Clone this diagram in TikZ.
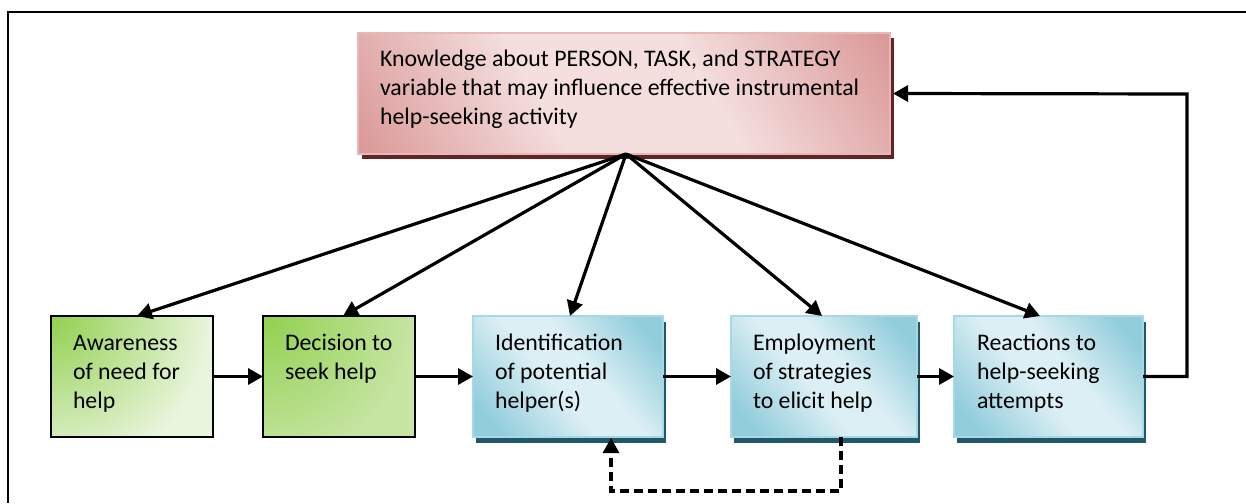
\documentclass[tikz,border=0pt]{standalone}
\usepackage{fontspec}
\setmainfont{Carlito}
\usetikzlibrary{arrows.meta,shadows,calc}
\definecolor{pinkD}{HTML}{D99594}
\definecolor{pinkL}{HTML}{F4DEDE}
\definecolor{pinkB}{HTML}{E6B9B8}
\definecolor{pinkS}{HTML}{632423}
\definecolor{blueD}{HTML}{92CDDC}
\definecolor{blueL}{HTML}{DCEFF4}
\definecolor{blueB}{HTML}{A8D8E4}
\definecolor{blueS}{HTML}{215867}
\definecolor{greenD}{HTML}{92D050}
\definecolor{greenL}{HTML}{EAF5DE}
\definecolor{greenM}{HTML}{C6E5A3}
\pgfdeclarehorizontalshading{pinksh}{100bp}{color(0bp)=(pinkD); color(15bp)=(pinkD); color(40bp)=(pinkL); color(60bp)=(pinkL); color(85bp)=(pinkD); color(100bp)=(pinkD)}
\pgfdeclarehorizontalshading{bluesh}{100bp}{color(0bp)=(blueD); color(22bp)=(blueD); color(45bp)=(blueL); color(57bp)=(blueL); color(78bp)=(blueD); color(100bp)=(blueD)}
\newcommand{\bxtext}[4]{\hspace*{#3pt}\parbox[c][121pt][t]{\dimexpr#1pt-#3pt\relax}{\raggedright\baselineskip=29.2pt\rule{0pt}{#2pt}#4}}
\begin{document}
\begin{tikzpicture}[x=1pt,y=-1pt,
  every node/.style={inner sep=0pt,outer sep=0pt,anchor=north west,font=\fontsize{23.8}{29.2}\selectfont},
  pinkbox/.style={shading=pinksh,shading angle=30,draw=pinkB,line width=1.5pt,
     general shadow={shadow xshift=4pt,shadow yshift=-5pt,fill=pinkS,opacity=1}},
  bluebox/.style={shading=bluesh,shading angle=40,draw=blueB,line width=1.5pt,
     general shadow={shadow xshift=3pt,shadow yshift=-6pt,fill=blueS,opacity=1}},
  greenA/.style={fill=greenL,draw=black,line width=1.5pt,
     path picture={\shade[inner color=greenD,outer color=greenL] (path picture bounding box.north west) circle (160pt);}},
  greenB/.style={fill=greenM,draw=black,line width=1.5pt,
     path picture={\shade[inner color=greenD,outer color=greenM] (path picture bounding box.north west) circle (150pt);}},
  arr/.style={line width=3.2pt,-{Triangle[length=15pt,width=16pt]}},
  darr/.style={line width=3.2pt,dash pattern=on 9pt off 5pt,-{Triangle[length=15pt,width=16pt]}}
]
\useasboundingbox (0,0) rectangle (1246,503);
\fill[white] (0,0) rectangle (1246,503);
% outer frame
\draw[line width=2pt] (8,503) -- (8,12) -- (1246,12);

\node[pinkbox] (top) at (358,33) {\hspace*{22pt}\parbox[c][121pt][t]{510pt}{\raggedright\baselineskip=29pt\rule{0pt}{33pt}Knowledge about PERSON, TASK, and STRATEGY\\variable that may influence effective instrumental\\help-seeking activity}};

\node[greenA] (b1) at (51,316) {\bxtext{162}{34}{22}{Awareness\\of need for\\help}};
\node[greenB] (b2) at (263,316) {\bxtext{152}{34}{22}{Decision to\\seek help}};
\node[bluebox] (b3) at (473,316) {\bxtext{190}{34}{22}{Identification\\of potential\\helper(s)}};
\node[bluebox] (b4) at (731,316) {\bxtext{186}{34}{22}{Employment\\of strategies\\to elicit help}};
\node[bluebox] (b5) at (954,316) {\bxtext{189}{34}{23}{Reactions to\\help-seeking\\attempts}};

\coordinate (src) at ($(top.south)+(2,0)$);
\draw[arr] (src) -- ([xshift=86pt]b1.north west);
\draw[arr] (src) -- ([xshift=80pt]b2.north west);
\draw[arr] (src) -- ([xshift=97pt]b3.north west);
\draw[arr] (src) -- ([xshift=91pt]b4.north west);
\draw[arr] (src) -- ([xshift=86pt]b5.north west);

\draw[arr] (b1.east) -- (b2.west);
\draw[arr] (b2.east) -- (b3.west);
\draw[arr] (b3.east) -- (b4.west);
\draw[arr] (b4.east) -- (b5.west);

\coordinate (fb) at (1187,94);
\draw[arr] (b5.east) -| (fb) -- ([xshift=3pt]top.east);

\coordinate (dl) at (611,491);
\draw[darr] ([xshift=110pt]b4.south west) |- (dl) -- ([xshift=138pt,yshift=-1pt]b3.south west);
\end{tikzpicture}
\end{document}
